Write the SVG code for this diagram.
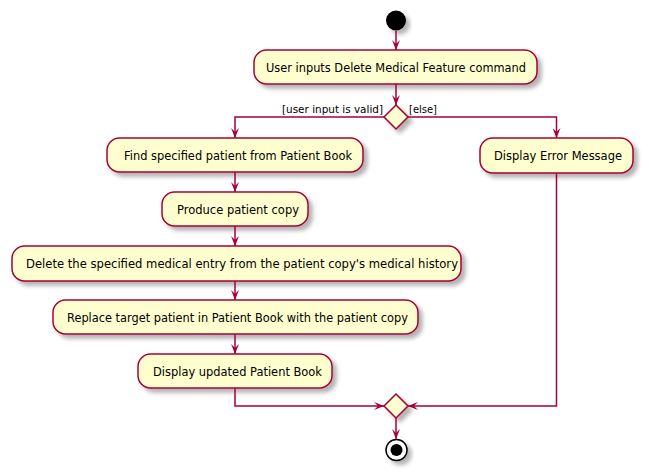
<svg xmlns="http://www.w3.org/2000/svg" width="649" height="476" viewBox="0 0 649 476">
<defs>
<filter id="sh" x="-20%" y="-30%" width="150%" height="180%">
<feGaussianBlur in="SourceAlpha" stdDeviation="2"/>
<feOffset dx="4" dy="4" result="o"/>
<feComponentTransfer><feFuncA type="linear" slope="0.3"/></feComponentTransfer>
<feMerge><feMergeNode/><feMergeNode in="SourceGraphic"/></feMerge>
</filter>
<marker id="ah" viewBox="0 0 10 8" refX="10" refY="4" markerWidth="10" markerHeight="8" orient="auto" markerUnits="userSpaceOnUse">
<path d="M0,0 L10,4 L0,8 L4,4 Z" fill="#A80036"/>
</marker>
</defs>
<style>
.act{fill:#FEFECE;stroke:#A80036;stroke-width:1.5;filter:url(#sh)}
.t{font-family:"DejaVu Sans",sans-serif;font-size:11.5px;fill:#000}
.g{font-family:"DejaVu Sans",sans-serif;font-size:10.5px;fill:#000}
.c{fill:none;stroke:#A80036;stroke-width:1.5;marker-end:url(#ah)}
</style>
<rect width="649" height="476" fill="#fff"/>
<g id="start"><circle cx="396" cy="20.5" r="10" fill="#000" filter="url(#sh)"/></g>
<g id="n1"><rect class="act" x="254" y="50" width="283" height="34" rx="12.5"/><text class="t" x="266" y="71.5" textLength="260" lengthAdjust="spacingAndGlyphs">User inputs Delete Medical Feature command</text></g>
<g id="d1"><polygon class="act" points="396,105 408,117 396,129 384,117"/></g>
<g id="n2"><rect class="act" x="107" y="138" width="256" height="34" rx="12.5"/><text class="t" x="124" y="159.5" textLength="228" lengthAdjust="spacingAndGlyphs">Find specified patient from Patient Book</text></g>
<g id="n3"><rect class="act" x="480" y="138" width="153" height="35" rx="12.5"/><text class="t" x="494" y="160" textLength="128" lengthAdjust="spacingAndGlyphs">Display Error Message</text></g>
<g id="n4"><rect class="act" x="162" y="192" width="146" height="34" rx="12.5"/><text class="t" x="177" y="213.5" textLength="122" lengthAdjust="spacingAndGlyphs">Produce patient copy</text></g>
<g id="n5"><rect class="act" x="12" y="246" width="449" height="35" rx="12.5"/><text class="t" x="26" y="268" textLength="432" lengthAdjust="spacingAndGlyphs">Delete the specified medical entry from the patient copy's medical history</text></g>
<g id="n6"><rect class="act" x="53" y="300" width="365" height="34" rx="12.5"/><text class="t" x="67" y="321.5" textLength="341" lengthAdjust="spacingAndGlyphs">Replace target patient in Patient Book with the patient copy</text></g>
<g id="n7"><rect class="act" x="138" y="354" width="194" height="34" rx="12.5"/><text class="t" x="153" y="375.5" textLength="169" lengthAdjust="spacingAndGlyphs">Display updated Patient Book</text></g>
<g id="d2"><polygon class="act" points="396,394 408,406 396,418 384,406"/></g>
<g id="end"><circle cx="396.5" cy="450" r="10.5" fill="#fff" stroke="#000" stroke-width="1.5" filter="url(#sh)"/><circle cx="396.5" cy="450" r="6" fill="#000"/></g>
<g id="connectors">
<path class="c" d="M396,31 L396,50"/>
<path class="c" d="M396,84 L396,105"/>
<path class="c" d="M384,117 L235,117 L235,138"/>
<path class="c" d="M408,117 L556.5,117 L556.5,138"/>
<path class="c" d="M235,172 L235,192"/>
<path class="c" d="M235,226 L235,246"/>
<path class="c" d="M235,281 L235,300"/>
<path class="c" d="M235,334 L235,354"/>
<path class="c" d="M235,388 L235,406 L384,406"/>
<path class="c" d="M556.5,173 L556.5,406 L408,406"/>
<path class="c" d="M396,418 L396,439"/>
<text class="g" x="282" y="113" textLength="101" lengthAdjust="spacingAndGlyphs">[user input is valid]</text>
<text class="g" x="409" y="113" textLength="28" lengthAdjust="spacingAndGlyphs">[else]</text>
</g>
</svg>
